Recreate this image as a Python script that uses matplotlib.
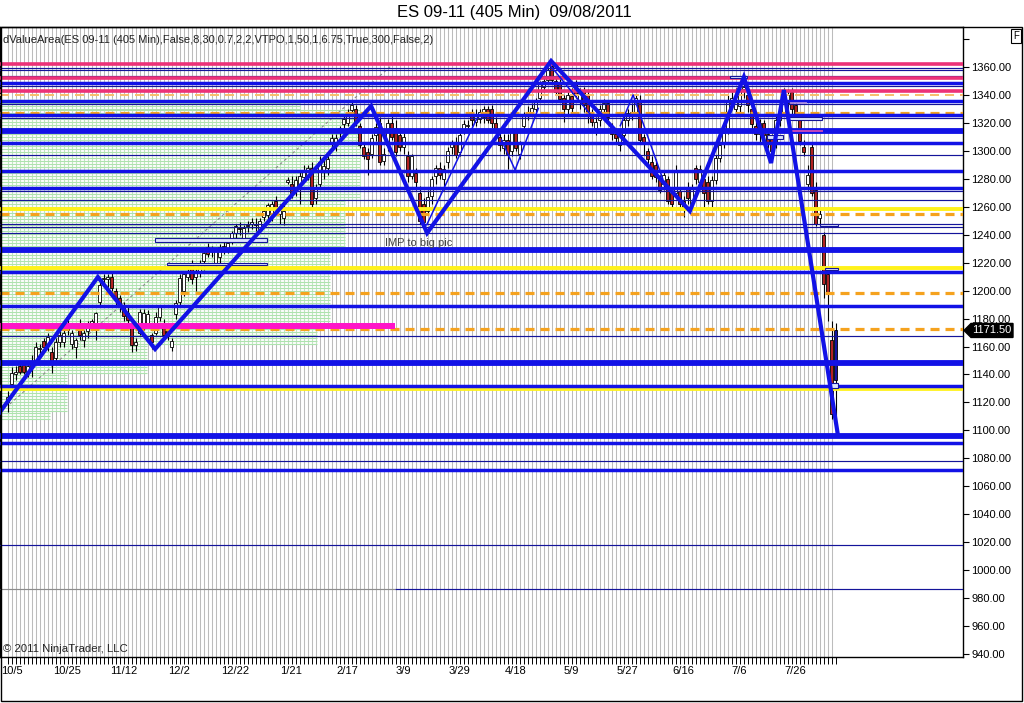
import numpy as np
import matplotlib.pyplot as plt
from matplotlib.patches import Rectangle, Polygon

plt.rcParams['font.family'] = ['Liberation Sans', 'DejaVu Sans']
plt.rcParams['lines.scale_dashes'] = False

W, H = 1024, 703

# ---------------- data ----------------
date_labels = ["10/5", "10/25", "11/12", "12/2", "12/22", "1/21", "2/17", "3/9",
               "3/29", "4/18", "5/9", "5/27", "6/16", "7/6", "7/26"]
date_label_bars = [1, 15, 29, 43, 57, 71, 85, 99, 113, 127, 141, 155, 169, 183, 197]

opens = [1120, 1133, 1140, 1146, 1147, 1142, 1146, 1150, 1158, 1164,
         1161, 1156, 1152, 1163, 1163, 1177, 1162, 1160, 1176, 1165,
         1171, 1176, 1177, 1192, 1208, 1208, 1210, 1200, 1195, 1190,
         1184, 1174, 1161, 1170, 1176, 1176, 1168, 1170, 1181, 1176,
         1172, 1160, 1183, 1192, 1200, 1210, 1220, 1210, 1214, 1221,
         1231, 1228, 1220, 1224, 1231, 1230, 1235, 1241, 1245, 1238,
         1246, 1248, 1247, 1244, 1253, 1254, 1255, 1264, 1255, 1252,
         1278, 1276, 1272, 1275, 1281, 1283, 1288, 1266, 1276, 1286,
         1288, 1306, 1304, 1314, 1319, 1320, 1329, 1330, 1318, 1303,
         1299, 1298, 1311, 1320, 1293, 1304, 1320, 1316, 1311, 1303,
         1296, 1282, 1284, 1270, 1262, 1257, 1268, 1282, 1288, 1280,
         1292, 1303, 1306, 1299, 1315, 1318, 1326, 1321, 1323, 1324,
         1330, 1330, 1320, 1310, 1302, 1308, 1300, 1314, 1298, 1318,
         1325, 1328, 1330, 1338, 1346, 1351, 1361, 1350, 1349, 1338,
         1330, 1339, 1348, 1336, 1343, 1340, 1327, 1316, 1322, 1330,
         1334, 1316, 1312, 1304, 1311, 1322, 1326, 1328, 1335, 1310,
         1300, 1292, 1290, 1280, 1276, 1280, 1270, 1270, 1271, 1264,
         1274, 1262, 1288, 1278, 1280, 1278, 1264, 1279, 1295, 1305,
         1315, 1334, 1330, 1332, 1344, 1340, 1330, 1318, 1312, 1320,
         1312, 1310, 1305, 1322, 1328, 1334, 1342, 1333, 1322, 1303,
         1276, 1303, 1272, 1252, 1240, 1212, 1165, 1136]
highs = [1128, 1145, 1146, 1148, 1149, 1150, 1154, 1163, 1162, 1166,
         1170, 1160, 1166, 1172, 1172, 1180, 1172, 1166, 1180, 1172,
         1178, 1180, 1185, 1208, 1212, 1212, 1213, 1202, 1197, 1192,
         1188, 1176, 1166, 1187, 1187, 1186, 1170, 1185, 1190, 1180,
         1175, 1166, 1193, 1212, 1214, 1216, 1222, 1216, 1222, 1228,
         1234, 1232, 1230, 1233, 1235, 1236, 1243, 1248, 1249, 1247,
         1250, 1252, 1252, 1252, 1260, 1263, 1264, 1268, 1262, 1261,
         1281, 1282, 1282, 1285, 1290, 1290, 1292, 1276, 1296, 1294,
         1297, 1312, 1312, 1318, 1325, 1330, 1336, 1333, 1320, 1306,
         1302, 1312, 1320, 1324, 1302, 1323, 1325, 1322, 1316, 1313,
         1300, 1298, 1288, 1275, 1266, 1272, 1282, 1290, 1292, 1290,
         1303, 1308, 1310, 1314, 1322, 1322, 1330, 1330, 1330, 1332,
         1332, 1333, 1324, 1314, 1312, 1312, 1316, 1316, 1307, 1328,
         1332, 1334, 1338, 1350, 1353, 1360, 1365, 1353, 1352, 1340,
         1342, 1345, 1351, 1345, 1346, 1344, 1330, 1324, 1333, 1337,
         1336, 1320, 1316, 1314, 1325, 1330, 1334, 1341, 1340, 1312,
         1302, 1296, 1294, 1283, 1285, 1282, 1274, 1290, 1274, 1268,
         1278, 1276, 1290, 1290, 1282, 1282, 1282, 1297, 1306, 1316,
         1340, 1342, 1345, 1348, 1353, 1345, 1332, 1322, 1323, 1322,
         1316, 1312, 1326, 1333, 1345, 1344, 1345, 1336, 1325, 1308,
         1290, 1305, 1278, 1258, 1242, 1216, 1178, 1177]
lows = [1113, 1130, 1136, 1140, 1140, 1138, 1138, 1148, 1152, 1156,
        1157, 1141, 1150, 1160, 1160, 1168, 1158, 1152, 1165, 1160,
        1166, 1172, 1165, 1190, 1203, 1198, 1200, 1190, 1185, 1178,
        1175, 1156, 1157, 1168, 1172, 1173, 1158, 1168, 1178, 1166,
        1165, 1157, 1180, 1190, 1196, 1207, 1205, 1200, 1210, 1215,
        1224, 1224, 1216, 1220, 1226, 1227, 1233, 1238, 1240, 1236,
        1242, 1244, 1243, 1242, 1250, 1250, 1250, 1258, 1248, 1247,
        1276, 1266, 1268, 1262, 1278, 1279, 1260, 1262, 1274, 1280,
        1283, 1302, 1300, 1310, 1316, 1318, 1326, 1318, 1302, 1294,
        1283, 1295, 1307, 1290, 1290, 1300, 1308, 1296, 1300, 1298,
        1278, 1280, 1272, 1248, 1244, 1254, 1262, 1276, 1280, 1272,
        1288, 1298, 1295, 1296, 1312, 1314, 1318, 1318, 1320, 1320,
        1320, 1316, 1310, 1300, 1298, 1287, 1296, 1300, 1294, 1315,
        1322, 1326, 1327, 1336, 1342, 1348, 1349, 1340, 1335, 1321,
        1326, 1328, 1338, 1330, 1328, 1320, 1318, 1311, 1318, 1326,
        1322, 1308, 1305, 1300, 1308, 1318, 1322, 1325, 1305, 1297,
        1290, 1280, 1278, 1270, 1272, 1262, 1260, 1268, 1258, 1253,
        1262, 1258, 1276, 1274, 1259, 1262, 1260, 1276, 1292, 1302,
        1312, 1330, 1326, 1328, 1338, 1328, 1315, 1308, 1306, 1308,
        1302, 1296, 1302, 1318, 1325, 1330, 1326, 1322, 1304, 1296,
        1272, 1268, 1246, 1248, 1195, 1178, 1108, 1098]
closes = [1124, 1141, 1142, 1142, 1142, 1146, 1148, 1160, 1159, 1160,
          1167, 1150, 1163, 1168, 1170, 1172, 1170, 1165, 1168, 1170,
          1176, 1178, 1184, 1204, 1208, 1210, 1202, 1195, 1190, 1182,
          1179, 1161, 1163, 1185, 1184, 1183, 1163, 1181, 1188, 1168,
          1168, 1164, 1191, 1209, 1212, 1213, 1208, 1214, 1220, 1227,
          1226, 1229, 1228, 1231, 1232, 1234, 1241, 1246, 1244, 1245,
          1247, 1249, 1248, 1250, 1257, 1261, 1262, 1260, 1260, 1257,
          1279, 1270, 1279, 1282, 1286, 1288, 1262, 1273, 1292, 1289,
          1294, 1309, 1309, 1316, 1323, 1328, 1333, 1321, 1304, 1296,
          1294, 1309, 1317, 1292, 1298, 1320, 1310, 1299, 1303, 1310,
          1282, 1296, 1278, 1250, 1249, 1267, 1280, 1288, 1283, 1287,
          1300, 1305, 1297, 1311, 1319, 1318, 1322, 1326, 1328, 1330,
          1322, 1320, 1315, 1304, 1308, 1298, 1314, 1302, 1305, 1325,
          1328, 1331, 1336, 1348, 1350, 1358, 1351, 1342, 1337, 1330,
          1340, 1331, 1341, 1342, 1333, 1326, 1321, 1321, 1330, 1334,
          1324, 1312, 1309, 1311, 1322, 1327, 1328, 1338, 1308, 1306,
          1294, 1282, 1281, 1272, 1283, 1264, 1262, 1286, 1262, 1259,
          1266, 1273, 1280, 1287, 1270, 1264, 1279, 1295, 1304, 1313,
          1336, 1338, 1336, 1344, 1346, 1333, 1319, 1312, 1320, 1311,
          1306, 1300, 1322, 1328, 1341, 1340, 1330, 1326, 1307, 1299,
          1283, 1270, 1248, 1255, 1205, 1198, 1112, 1171.5]
last_price = 1171.50

# swing line (thick) and minor swings (thin)
zz_bars = [-1.9, 22.6, 36.9, 90.9, 104.9, 135.9, 170.6, 184.1, 190.9, 194.1, 207.6]
zz_prices = [1113.0, 1209.7, 1158.2, 1332.1, 1241.2, 1364.3, 1257.0, 1352.8, 1291.3, 1343.5, 1096.7]
minor_a_bars, minor_a_prices = [104.8, 117.3], [1247.0, 1323.0]
minor_b_bars, minor_b_prices = [123.5, 126.9, 132.7], [1307.8, 1286.3, 1330.4]
minor_c_bars, minor_c_prices = [135.6, 146.5], [1361.4, 1323.3]
minor_d_bars, minor_d_prices = [153.2, 156.4, 163.8], [1318.0, 1340.0, 1280.0]
trend_bars, trend_prices = [0.6, 96.4], [1118.9, 1362.1]

# horizontal levels by kind
wide_blue_levels = [1314.2, 1229.1, 1148.4, 1096.0]
blue_levels = [1348.9, 1335.7, 1325.4, 1305.4, 1285.4, 1273.1, 1213.5, 1188.8,
               1131.5, 1091.2, 1071.4]
thin_blue_levels = [1359.6, 1357.5, 1353.6, 1346.4, 1333.5, 1323.2, 1296.8, 1271.3,
                    1264.6, 1247.7, 1245.3, 1241.0, 1167.5, 1077.9, 1018.0]
split_level = 986.3
pink_levels = [1361.9, 1352.1, 1343.0]
yellow_levels = [1258.2, 1216.0, 1129.3]
orange_levels = [1327.1, 1254.8, 1198.0, 1172.3]
light_orange_levels = [1340.3]
magenta_level, magenta_end_bar = 1174.7, 96.9

# value-area boxes: (start bar, end bar, low, high)
box_start = [36.9, 39.9, 180.6, 189.9, 194.9, 203.1, 204.4, 205.8]
box_end = [64.9, 64.9, 184.9, 193.9, 203.6, 207.6, 207.6, 207.7]
box_low = [1234.6, 1218.0, 1352.0, 1308.5, 1322.0, 1246.0, 1215.0, 1130.0]
box_high = [1237.5, 1220.0, 1353.6, 1311.4, 1324.0, 1248.0, 1216.5, 1134.0]

# volume profile bands: (top price, bottom price, right end in bars)
prof_top = [1338, 1330, 1265, 1230, 1178, 1162, 1141, 1114]
prof_bot = [1330, 1265, 1230, 1178, 1162, 1141, 1114, 1108]
prof_end = [73.0, 88.1, 84.4, 80.6, 77.4, 34.9, 14.9, 10.6]

# ---------------- figure ----------------
PX_PER_PT = 587 / 420.0
y_lo = 1360 - (657 - 67) / PX_PER_PT
y_hi = 1360 + (67 - 27) / PX_PER_PT
x_lo = -7.5 / 4
x_hi = (963 - 7.5) / 4


def fx(px):
    return px / W


def fy(py):
    return 1 - py / H


fig = plt.figure(figsize=(W / 100, H / 100), dpi=100)
ax = fig.add_axes([0, fy(657), fx(963), (657 - 27) / H])
ax.set_xlim(x_lo, x_hi)
ax.set_ylim(y_lo, y_hi)

BLUE = "#1212E6"
THIN = "#14149A"

# background bar grid
ax.vlines(np.arange(0, 207), y_lo, y_hi, color="#BCBCBC", lw=0.75, zorder=0.5)

# volume profile rows
for top, bot, end in zip(prof_top, prof_bot, prof_end):
    rows = np.arange(bot, top, 2.15)
    ax.hlines(rows, x_lo, end, color="#AEE3AE", lw=0.8, zorder=0.6)
    ax.vlines(np.arange(0, int(end) + 1), bot, top, color="#C4E4C4", lw=0.75, zorder=0.55)

# trend dotted line
ax.plot(trend_bars, trend_prices, color="#8A8A8A", lw=0.8, ls=(0, (2, 2)), zorder=1.5)

# candles
bars = np.arange(len(opens))
o = np.array(opens, float)
c = np.array(closes, float)
ax.vlines(bars, lows, highs, color="black", lw=0.8, zorder=2)
up = c >= o
body_lo = np.minimum(o, c)
body_h = np.maximum(np.abs(c - o), 0.7)
face = np.where(up, "white", "#B22222").tolist()
face[-1] = "#1414A0"
ax.bar(bars, body_h, bottom=body_lo, width=0.8, color=face, edgecolor="black",
       linewidth=0.6, zorder=2.2)

# horizontal levels
for p in thin_blue_levels:
    ax.axhline(p, color=THIN, lw=0.85, zorder=3)
ax.hlines(split_level, x_lo, 96.9, color="#8C8C8C", lw=0.85, zorder=3)
ax.hlines(split_level, 96.9, x_hi, color=THIN, lw=0.85, zorder=3)
for p in yellow_levels:
    ax.axhline(p, color="#FFF21A", lw=2.8 if p > 1200 else 2.0, zorder=3)
for p in orange_levels:
    ax.axhline(p, color="#F5A21E", lw=2.3, ls=(0, (6.5, 4.3)), zorder=3.1)
for p in light_orange_levels:
    ax.axhline(p, color="#F7BE6A", lw=1.4, ls=(0, (6.5, 4.3)), zorder=3.1)
ax.hlines(magenta_level, x_lo, magenta_end_bar, color="#FF14C8", lw=4.3, zorder=3.1)
for p in pink_levels:
    ax.axhline(p, color="#EC3278", lw=2.6, zorder=3.2)
for p in blue_levels:
    ax.axhline(p, color=BLUE, lw=2.5, zorder=3.3)
for p in wide_blue_levels:
    ax.axhline(p, color=BLUE, lw=4.2, zorder=3.3)

# small value-area boxes
for x0, x1, lo, hi in zip(box_start, box_end, box_low, box_high):
    ax.add_patch(Rectangle((x0, lo), x1 - x0, hi - lo, fc="#DCE4FF", ec=THIN,
                           lw=0.8, zorder=3.5))
ax.hlines(1314.5, 195.5, 203.8, color="#E050B0", lw=1.2, zorder=3.6)
ax.hlines(1334.5, 195.5, 199.8, color="#B090E0", lw=1.2, zorder=3.6)

# swing lines
ax.plot(zz_bars, zz_prices, color=BLUE, lw=3.0, zorder=4, solid_joinstyle="miter")
for xs, ys in [(minor_a_bars, minor_a_prices), (minor_b_bars, minor_b_prices),
               (minor_c_bars, minor_c_prices), (minor_d_bars, minor_d_prices)]:
    ax.plot(xs, ys, color=BLUE, lw=1.1, zorder=4)

ax.text(94.4, 1234.1, "IMP to big pic", fontsize=8, color="#444444",
        va="center", ha="left", zorder=5)

# axes styling
for s in ax.spines.values():
    s.set_color("black")
    s.set_linewidth(1.0)
yt = np.arange(940, 1381, 20)
ax.set_yticks(yt)
ax.set_yticklabels([f"{v:.2f}" if v <= 1360 else "" for v in yt])
ax.yaxis.tick_right()
ax.tick_params(axis="y", length=4, width=0.8, pad=2, labelsize=8, colors="black")
ax.set_xticks(date_label_bars)
ax.set_xticklabels(date_labels)
ax.set_xticks(np.arange(0, 208), minor=True)
ax.tick_params(axis="x", which="both", length=5, width=0.7, pad=1.5, labelsize=8)

# texts outside / on the chart
fig.text(fx(514), fy(13), "ES 09-11 (405 Min)  09/08/2011", ha="center", va="center",
         fontsize=12)
fig.text(fx(3), fy(40),
         "dValueArea(ES 09-11 (405 Min),False,8,30,0.7,2,2,VTPO,1,50,1,6.75,True,300,False,2)",
         ha="left", va="center", fontsize=8.0, color="#222222")
fig.text(fx(3), fy(649), "\u00a9 2011 NinjaTrader, LLC", ha="left", va="center",
         fontsize=8.2, color="#222222")
fig.text(fx(1016), fy(36), "F", ha="center", va="center", fontsize=7,
         bbox=dict(boxstyle="square,pad=0.2", fc="white", ec="black", lw=0.8))

# last price marker
py = 67 + (1360 - last_price) * PX_PER_PT
pts = [(964, py), (971, py - 7), (1013, py - 7), (1013, py + 7), (971, py + 7)]
fig.add_artist(Polygon([(fx(a), fy(b)) for a, b in pts], closed=True,
                       transform=fig.transFigure, fc="black", ec="black"))
fig.text(fx(992), fy(py), f"{last_price:.2f}", ha="center", va="center",
         fontsize=8, color="white")

# outer frame
fig.add_artist(Rectangle((fx(0.5), fy(701)), fx(1021), (701 - 27) / H,
                         transform=fig.transFigure, fill=False, ec="black", lw=1.0))

fig.savefig("out.png", dpi=100)
